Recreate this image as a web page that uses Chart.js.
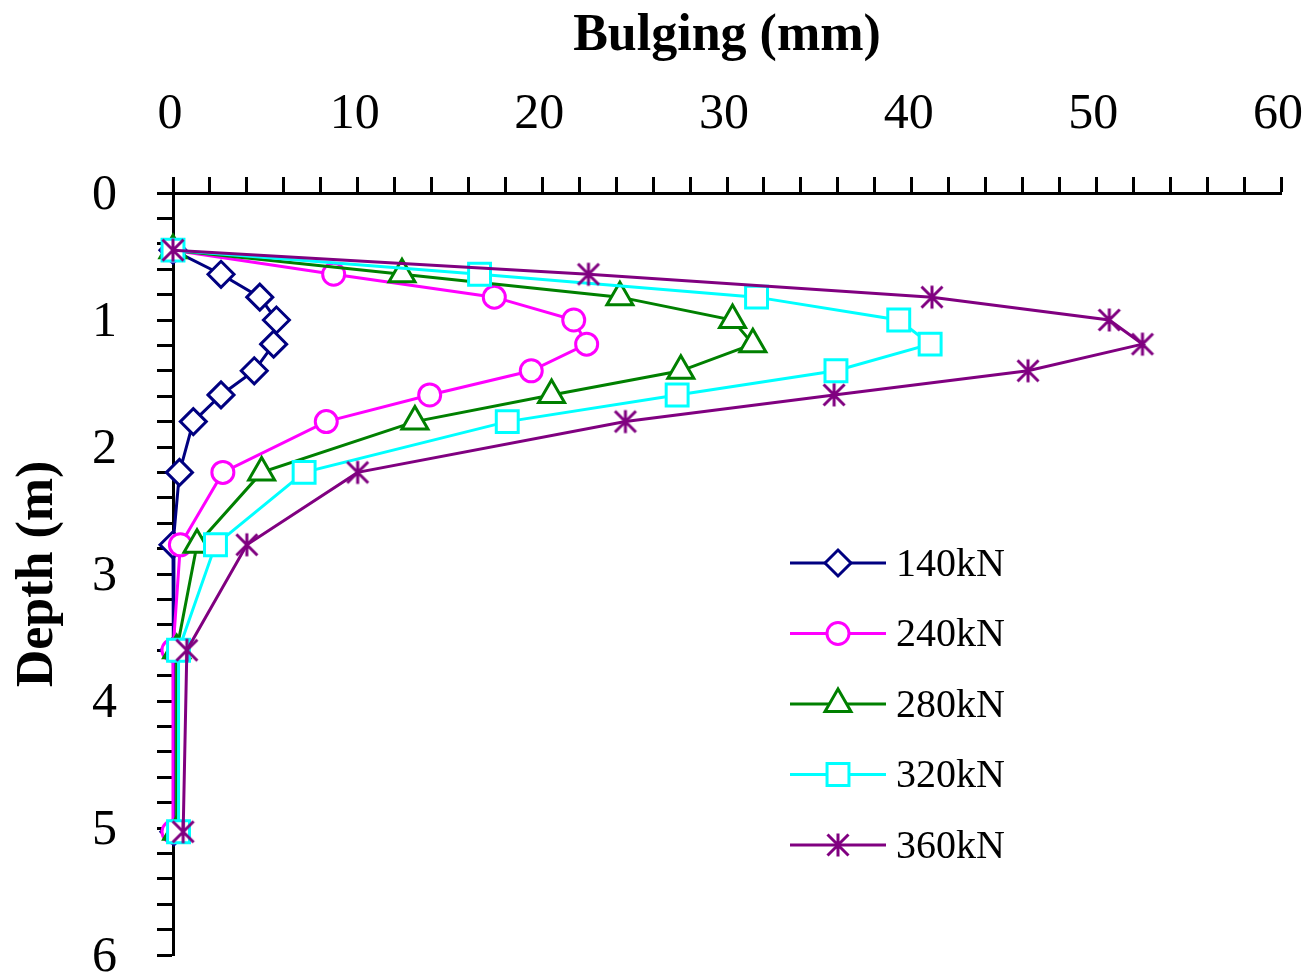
<!DOCTYPE html>
<html>
<head>
<meta charset="utf-8">
<title>Bulging vs depth</title>
<script src="https://cdn.jsdelivr.net/npm/chart.js@4.4.1/dist/chart.umd.min.js"></script>
<style>
  html, body { margin: 0; padding: 0; background: #fff; }
  #chart { display: block; }
</style>
</head>
<body>
<canvas id="chart" width="1306" height="975"></canvas>
<script>
'use strict';

// Values

const depths = [0.45, 0.64, 0.82, 1.0, 1.19, 1.4, 1.59, 1.8, 2.2, 2.77, 3.6, 5.03];
const loads = ['140kN', '240kN', '280kN', '320kN', '360kN'];
const bulge140 = [0, 2.6, 4.7, 5.6, 5.45, 4.4, 2.6, 1.1, 0.35, 0, 0.05, 0.05];
const bulge240 = [0, 8.7, 17.4, 21.7, 22.4, 19.4, 13.9, 8.3, 2.7, 0.4, 0, 0];
const bulge280 = [0, 12.4, 24.2, 30.3, 31.4, 27.5, 20.5, 13.1, 4.8, 1.3, 0.2, 0.2];
const bulge320 = [0, 16.6, 31.6, 39.3, 41.0, 35.9, 27.3, 18.1, 7.1, 2.3, 0.3, 0.3];
const bulge360 = [0, 22.5, 41.1, 50.7, 52.5, 46.3, 35.8, 24.5, 10.0, 4.0, 0.75, 0.55];
const xTickLabels = [0, 10, 20, 30, 40, 50, 60];
const yTickLabels = [0, 1, 2, 3, 4, 5, 6];

// Looks

const colors = ['#000080', '#FF00FF', '#008000', '#00FFFF', '#800080'];
const FONT = "'Liberation Serif', 'Times New Roman', serif";

// Excel style asterisk marker (vertical line + X)
function makeStar(color) {
    let c = document.createElement('canvas');
    c.width = 30;
    c.height = 30;
    let g = c.getContext('2d');
    g.strokeStyle = color;
    g.lineWidth = 3;
    g.beginPath();
    g.moveTo(15, 3.5); g.lineTo(15, 26.5);
    g.moveTo(4.5, 4.5); g.lineTo(25.5, 25.5);
    g.moveTo(25.5, 4.5); g.lineTo(4.5, 25.5);
    g.stroke();
    return c;
}

const pointStyles = ['rectRot', 'circle', 'triangle', 'rect', makeStar(colors[4])];
const pointSizes = [13, 11, 15, 15.5, 12];

const allSeries = [bulge140, bulge240, bulge280, bulge320, bulge360];

function buildDatasets() {
    let sets = [];
    for (let i = 0; i < loads.length; i++) {
        sets.push({
            label: loads[i],
            data: depths.map((d, j) => ({x: allSeries[i][j], y: d})),
            showLine: true,
            borderColor: colors[i],
            backgroundColor: '#fff',
            borderWidth: 3,
            pointStyle: pointStyles[i],
            pointRadius: pointSizes[i],
            pointBorderWidth: 3,
            pointBorderColor: colors[i],
            pointBackgroundColor: '#fff',
            tension: 0,
            clip: false,
            order: loads.length - 1 - i   // 360kN ends up on top
        });
    }
    return sets;
}

// Legend drawn inside the plot, line + marker + label
const sideLegend = {
    id: 'sideLegend',
    afterDraw(chart) {
        const ctx = chart.ctx;
        ctx.save();
        for (let i = 0; i < loads.length; i++) {
            let y = 563 + i * 70.5;
            ctx.strokeStyle = colors[i];
            ctx.lineWidth = 3;
            ctx.beginPath();
            ctx.moveTo(790, y);
            ctx.lineTo(886, y);
            ctx.stroke();

            ctx.fillStyle = '#fff';
            ctx.strokeStyle = colors[i];
            ctx.lineWidth = 3;
            Chart.helpers.drawPoint(ctx, {
                pointStyle: pointStyles[i],
                radius: pointSizes[i],
                borderWidth: 3,
                rotation: 0
            }, 838, y);

            ctx.fillStyle = '#000';
            ctx.font = '40px ' + FONT;
            ctx.textAlign = 'left';
            ctx.textBaseline = 'middle';
            ctx.fillText(loads[i], 896, y + 2);
        }
        ctx.restore();
    }
};

const tickFont = {family: FONT, size: 50};
const titleFont = {family: FONT, size: 52, weight: 'bold'};

new Chart(document.getElementById('chart').getContext('2d'), {
    type: 'scatter',
    data: {datasets: buildDatasets()},
    options: {
        responsive: false,
        devicePixelRatio: 1,
        animation: false,
        events: [],
        layout: {padding: {left: 0, top: 0, right: 25, bottom: 20}},
        plugins: {
            legend: {display: false},
            tooltip: {enabled: false}
        },
        scales: {
            x: {
                type: 'linear',
                position: 'top',
                min: 0,
                max: 60,
                ticks: {
                    stepSize: 2,
                    autoSkip: false,
                    maxRotation: 0,
                    padding: 32,
                    labelOffset: -3,
                    color: '#000',
                    font: tickFont,
                    callback: (v) => xTickLabels.includes(v) ? String(v) : ''
                },
                grid: {drawOnChartArea: false, drawTicks: true, tickLength: 16, tickWidth: 3, tickColor: '#000'},
                border: {display: true, color: '#000', width: 3},
                title: {display: true, text: 'Bulging (mm)', color: '#000', font: titleFont, padding: {top: 5, bottom: 0}},
                afterFit: (s) => { s.height = 193; s.paddingLeft = 0; s.paddingRight = 0; }
            },
            y: {
                type: 'linear',
                position: 'left',
                reverse: true,
                min: 0,
                max: 6,
                ticks: {
                    stepSize: 0.2,
                    autoSkip: false,
                    padding: 40,
                    labelOffset: 3,
                    color: '#000',
                    font: tickFont,
                    callback: (v) => {
                        let r = Math.round(v);
                        return (Math.abs(v - r) < 1e-6 && yTickLabels.includes(r)) ? String(r) : '';
                    }
                },
                grid: {drawOnChartArea: false, drawTicks: true, tickLength: 16, tickWidth: 3, tickColor: '#000'},
                border: {display: true, color: '#000', width: 3},
                title: {display: true, text: 'Depth (m)', color: '#000', font: titleFont, padding: {top: 7, bottom: 0}},
                afterFit: (s) => { s.width = 173; s.paddingTop = 0; s.paddingBottom = 0; }
            }
        }
    },
    plugins: [sideLegend]
});
</script>
</body>
</html>
